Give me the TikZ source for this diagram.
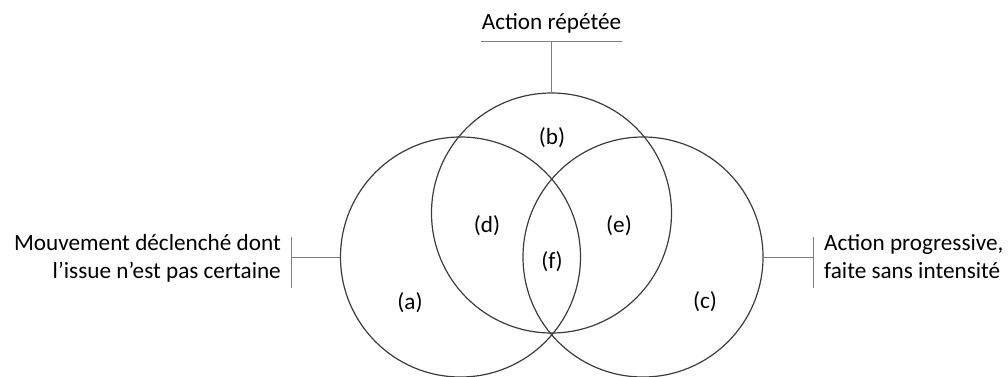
\documentclass[tikz,border=0pt]{standalone}
\usepackage{fontspec}
\setmainfont{Carlito}
\usetikzlibrary{calc}
\definecolor{ringgray}{RGB}{60, 60, 60}
\definecolor{tiegray}{RGB}{125, 125, 125}

\begin{document}
\begin{tikzpicture}[x = 1pt, y = 1pt,
  ring/.style = {draw = ringgray, line width = 1.2pt, circle, minimum size = 240pt, inner sep = 0pt},
  tie/.style = {draw = tiegray, line width = 0.9pt},
  lab/.style = {font = \fontsize{23.2}{27.5}\selectfont, inner sep = 0pt}]
\useasboundingbox (0,0) rectangle (1008,376);
\node[ring] (A) at (460.5, 119) {};
\node[ring] (B) at (551.5, 163) {};
\node[ring] (C) at (643, 119) {};
\node[lab] (la) at (410, 73) {(a)};
\node[lab] (lb) at (552, 238) {(b)};
\node[lab] (lc) at (705, 74) {(c)};
\node[lab] (ld) at (487, 150) {(d)};
\node[lab] (le) at (619, 150) {(e)};
\node[lab] (lf) at (552, 114) {(f)};
% top label
\coordinate (topbar) at (551.5, 335);
\draw[tie] (B.north) -- (topbar);
\draw[tie] ([xshift = -70.5pt]topbar) -- ([xshift = 70.5pt]topbar);
\node[lab, anchor = base] (toptext) at (551.5, 346.7) {Action répétée};
% left label
\coordinate (lefttick) at (291.7, 119);
\draw[tie] (A.west) -- (lefttick);
\draw[tie] ([yshift = -31pt]lefttick) -- ([yshift = 20pt]lefttick);
\node[lab, align = right, anchor = base east] (lefttext) at (281, 98) {Mouvement déclenché dont\\l’issue n’est pas certaine};
% right label
\coordinate (righttick) at (813.3, 119);
\draw[tie] (C.east) -- (righttick);
\draw[tie] ([yshift = -31pt]righttick) -- ([yshift = 20pt]righttick);
\node[lab, align = left, anchor = base west] (righttext) at (824, 98) {Action progressive,\\faite sans intensité};
\end{tikzpicture}
\end{document}
